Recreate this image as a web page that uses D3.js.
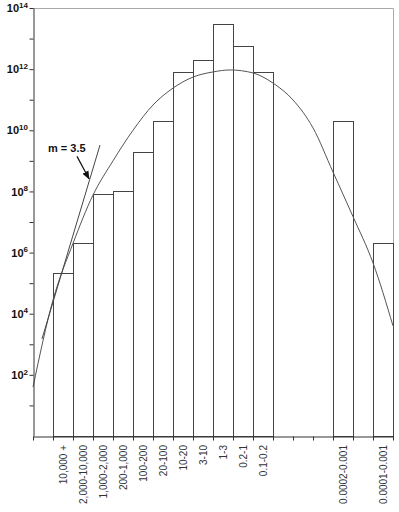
<!DOCTYPE html>
<html>
<head>
<meta charset="utf-8">
<script src="https://cdn.jsdelivr.net/npm/d3@7"></script>
<style>
  body { margin: 0; background: #fff; }
  text { font-family: "Liberation Sans", Arial, sans-serif; }
</style>
</head>
<body>
<svg id="chart" width="399" height="512"></svg>
<script>
// size classes on the x axis (empty slots are gaps in the plot)
const categories = ["", "10,000 +", "2,000-10,000", "1,000-2,000", "200-1,000", "100-200",
    "20-100", "10-20", "3-10", "1-3", "0.2-1", "0.1-0.2", "", "", "",
    "0.0002-0.001", "", "0.0001-0.001"];
const counts = [null, 2.1e5, 2.0e6, 8.3e7, 1.0e8, 1.95e9, 2.0e10, 8.1e11, 2.0e12, 3.0e13,
    5.7e12, 8.1e11, null, null, null, 2.0e10, null, 2.0e6];

// fitted curve, x in bin-edge units
const fitX = [0, 1, 2, 3, 4, 5, 6, 7, 8, 9, 9.85, 11, 12, 13, 14, 15, 16, 17, 18];
const fitY = [40, 2.8e4, 2.0e6, 7.6e7, 1.0e9, 1.0e10, 6.7e10, 2.4e11, 5.5e11, 8.1e11, 9.4e11,
    7.5e11, 3.5e11, 9.8e10, 1.2e10, 4.3e8, 1.5e7, 4.6e5, 4.0e3];

// tangent line m = 3.5
const slopeX = [0.45, 3.35];
const slopeY = [1.5e3, 3.3e9];
const slopeLabel = "m = 3.5";
const labelAt = [0.75, 2.0e9];
const arrowFrom = [2.2, 1.4e9];
const arrowTo = [2.8, 2.6e8];

const yTicks = d3.range(1, 15).map(e => Math.pow(10, e));

const svg = d3.select("#chart");
const mLeft = 33, mRight = 393, mTop = 8, mBottom = 436;

const x = d3.scaleLinear().domain([0, categories.length]).range([mLeft, mRight]);
const band = d3.scaleBand().domain(d3.range(categories.length)).range([mLeft, mRight]).padding(0);
const y = d3.scaleLog().domain([1, 1e14]).range([mBottom, mTop]);

// frame top/right
svg.append("path")
    .attr("d", `M${mLeft},${mTop + 0.5}H${mRight + 0.5}V${mBottom}`)
    .attr("fill", "none").attr("stroke", "#aaa").attr("stroke-width", 1);

// bars
svg.append("g").selectAll("rect")
    .data(counts.map((v, i) => ({i, v})).filter(d => d.v != null))
    .enter().append("rect")
    .attr("x", d => band(d.i) + 0.5)
    .attr("width", band.bandwidth())
    .attr("y", d => Math.round(y(d.v)) + 0.5)
    .attr("height", d => mBottom - Math.round(y(d.v)))
    .attr("fill", "#fff")
    .attr("stroke", "#444")
    .attr("stroke-width", 1);

// fitted curve
svg.append("path")
    .datum(fitX.map((v, i) => [v, fitY[i]]))
    .attr("fill", "none")
    .attr("stroke", "#555")
    .attr("stroke-width", 1)
    .attr("d", d3.line().x(d => x(d[0])).y(d => y(d[1])).curve(d3.curveMonotoneX));

// tangent
svg.append("line")
    .attr("x1", x(slopeX[0])).attr("y1", y(slopeY[0]))
    .attr("x2", x(slopeX[1])).attr("y2", y(slopeY[1]))
    .attr("stroke", "#444").attr("stroke-width", 1);

svg.append("defs").append("marker")
    .attr("id", "arr").attr("viewBox", "0 0 10 10")
    .attr("refX", 9).attr("refY", 5)
    .attr("markerWidth", 7).attr("markerHeight", 7)
    .attr("orient", "auto")
    .append("path").attr("d", "M0,1L10,5L0,9z").attr("fill", "#111");

svg.append("line")
    .attr("x1", x(arrowFrom[0])).attr("y1", y(arrowFrom[1]))
    .attr("x2", x(arrowTo[0])).attr("y2", y(arrowTo[1]))
    .attr("stroke", "#111").attr("stroke-width", 1.2)
    .attr("marker-end", "url(#arr)");

svg.append("text")
    .attr("x", x(labelAt[0])).attr("y", y(labelAt[1]))
    .attr("font-size", 11).attr("font-weight", "bold").attr("fill", "#111")
    .text(slopeLabel);

// y axis
const yAxis = svg.append("g")
    .attr("transform", `translate(${mLeft + 0.5},0)`)
    .call(d3.axisLeft(y).tickValues(yTicks).tickFormat("").tickSize(4).tickSizeOuter(0));
yAxis.select(".domain").attr("stroke", "#333");
yAxis.selectAll(".tick line").attr("stroke", "#333");

const yLab = svg.append("g").selectAll("text")
    .data(yTicks.filter((d, i) => (i + 1) % 2 === 0))
    .enter().append("text")
    .attr("x", 28)
    .attr("y", d => y(d))
    .attr("dy", "0.38em")
    .attr("text-anchor", "end")
    .attr("font-size", 11)
    .attr("font-weight", "bold")
    .attr("fill", "#111");
yLab.append("tspan").text("10");
yLab.append("tspan").attr("font-size", 8).attr("dy", "-0.55em")
    .text(d => Math.round(Math.log10(d)));

// x axis
const xAxis = svg.append("g")
    .attr("transform", `translate(0,${mBottom + 0.5})`)
    .call(d3.axisBottom(x).tickValues(d3.range(categories.length + 1)).tickFormat("").tickSize(4).tickSizeOuter(0));
xAxis.select(".domain").attr("stroke", "#333");
xAxis.selectAll(".tick line").attr("stroke", "#333");

svg.append("g").selectAll("text")
    .data(categories.map((c, i) => ({c, i})).filter(d => d.c !== ""))
    .enter().append("text")
    .attr("transform", d => `translate(${band(d.i) + band.bandwidth() / 2},${mBottom + 9}) rotate(-90)`)
    .attr("dy", "0.35em")
    .attr("text-anchor", "end")
    .attr("font-size", 10)
    .attr("fill", "#333")
    .text(d => d.c);
</script>
</body>
</html>
